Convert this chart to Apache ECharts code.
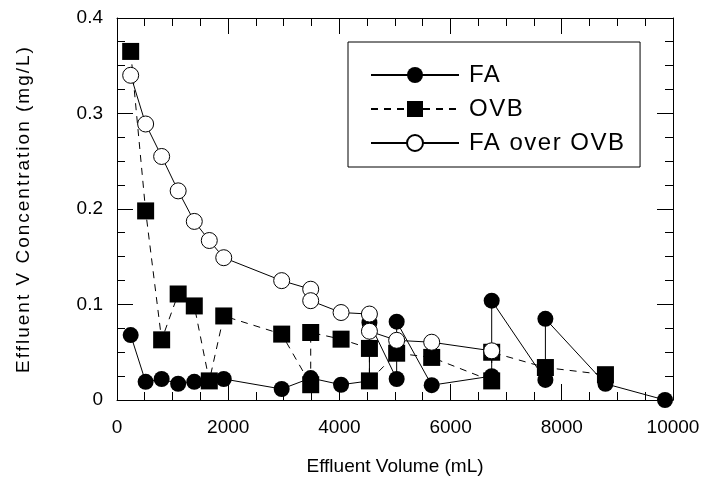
<!DOCTYPE html>
<html>
<head>
<meta charset="utf-8">
<script src="https://cdn.jsdelivr.net/npm/echarts@6/dist/echarts.min.js"></script>
<style>
html,body{margin:0;padding:0;background:#fff;}
#c{width:716px;height:484px;}
</style>
</head>
<body>
<div id="c"></div>
<script>
// ---- data ----
const volFA  = [246, 515, 803, 1100, 1390, 1660, 1920, 2962, 3484, 4030, 4540, 4540, 5030, 5030, 5660, 6739, 6739, 7705, 7705, 8785, 9856];
const concFA = [0.068, 0.019, 0.022, 0.017, 0.019, 0.020, 0.022, 0.0115, 0.023, 0.016, 0.020, 0.081, 0.022, 0.082, 0.0155, 0.025, 0.104, 0.021, 0.085, 0.017, 0.0];

const volOVB  = [246, 515, 803, 1100, 1390, 1660, 1920, 2962, 3484, 3484, 4030, 4540, 4540, 5030, 5660, 6739, 6739, 7705, 8785];
const concOVB = [0.365, 0.198, 0.063, 0.111, 0.0985, 0.020, 0.088, 0.069, 0.016, 0.0707, 0.0637, 0.054, 0.020, 0.049, 0.0446, 0.020, 0.050, 0.034, 0.0265];

const volFAoOVB  = [246, 515, 803, 1100, 1390, 1660, 1920, 2962, 3484, 3484, 4030, 4540, 4540, 5030, 5660, 6739];
const concFAoOVB = [0.340, 0.289, 0.255, 0.219, 0.187, 0.167, 0.149, 0.125, 0.116, 0.104, 0.0916, 0.090, 0.072, 0.0625, 0.0605, 0.0515];

const seriesNames = ['FA', 'OVB', 'FA over OVB'];
const xTicks = [0, 2000, 4000, 6000, 8000, 10000];
const yTicks = [0, 0.1, 0.2, 0.3, 0.4];
const minorPerMajor = 4;
const xTitle = 'Effluent Volume (mL)';
const yTitle = 'Effluent V Concentration (mg/L)';

// letter spacing similar to the original typesetting
const spacingFor = t => (t === yTitle ? '2px' : (seriesNames.indexOf(t) >= 0 ? '1.5px' : '0px'));
const _fill = CanvasRenderingContext2D.prototype.fillText;
CanvasRenderingContext2D.prototype.fillText = function (t) {
  try { this.letterSpacing = spacingFor(String(t)); } catch (e) {}
  return _fill.apply(this, arguments);
};

const pairs = (xs, ys) => xs.map((x, i) => [x, ys[i]]);
const FONT = 'Liberation Sans';
const xMin = xTicks[0], xMax = xTicks[xTicks.length - 1];
const yMin = yTicks[0], yMax = yTicks[yTicks.length - 1];
const MAJOR_LEN = 16, MINOR_LEN = 8;

const axisCommon = () => ({
  axisLine: { show: true, onZero: false, lineStyle: { color: '#000', width: 1 } },
  axisTick: { show: false },
  minorTick: { show: false },
  splitLine: { show: false },
  minorSplitLine: { show: false }
});
const xBase = () => Object.assign({ type: 'value', min: xMin, max: xMax, interval: xTicks[1] - xTicks[0] }, axisCommon());
const yBase = () => Object.assign({ type: 'value', min: yMin, max: yMax, interval: yTicks[1] - yTicks[0] }, axisCommon());

const chart = echarts.init(document.getElementById('c'), null, { renderer: 'canvas' });
chart.setOption({
  animation: false,
  backgroundColor: '#fff',
  textStyle: { fontFamily: FONT, color: '#000' },
  grid: { left: 117, right: 43, top: 18, bottom: 84 },
  legend: {
    data: seriesNames,
    orient: 'vertical',
    left: 348, top: 42,
    padding: [21, 31, 12, 22],
    itemWidth: 88, itemHeight: 20, itemGap: 10,
    borderColor: '#000', borderWidth: 1,
    textStyle: { fontFamily: FONT, fontSize: 24, lineHeight: 24, color: '#000', padding: [0, 0, 0, 5] }
  },
  xAxis: [
    Object.assign(xBase(), {
      position: 'bottom',
      name: xTitle, nameLocation: 'middle', nameGap: 57,
      nameTextStyle: { fontFamily: FONT, fontSize: 19, color: '#000' },
      axisLabel: { show: true, margin: 18, fontFamily: FONT, fontSize: 19, color: '#000', formatter: v => String(v) }
    }),
    Object.assign(xBase(), { position: 'top', axisLabel: { show: false } })
  ],
  yAxis: [
    Object.assign(yBase(), {
      position: 'left',
      name: yTitle, nameLocation: 'middle', nameGap: 84,
      nameTextStyle: { fontFamily: FONT, fontSize: 19, color: '#000' },
      axisLabel: { show: true, margin: 14, fontFamily: FONT, fontSize: 19, color: '#000', formatter: v => String(+v.toFixed(1)) }
    }),
    Object.assign(yBase(), { position: 'right', axisLabel: { show: false } })
  ],
  series: [
    {
      name: seriesNames[0], type: 'line', data: pairs(volFA, concFA),
      symbol: 'circle', symbolSize: 16, showAllSymbol: true,
      lineStyle: { color: '#000', width: 1, type: 'solid' },
      itemStyle: { color: '#000', borderWidth: 0 },
      emphasis: { disabled: true }
    },
    {
      name: seriesNames[1], type: 'line', data: pairs(volOVB, concOVB),
      symbol: 'rect', symbolSize: 17, showAllSymbol: true,
      lineStyle: { color: '#000', width: 1, type: [7, 6] },
      itemStyle: { color: '#000', borderWidth: 0 },
      emphasis: { disabled: true }
    },
    {
      name: seriesNames[2], type: 'line', data: pairs(volFAoOVB, concFAoOVB),
      symbol: 'circle', symbolSize: 16, showAllSymbol: true,
      lineStyle: { color: '#000', width: 1, type: 'solid' },
      itemStyle: { color: '#fff', borderColor: '#000', borderWidth: 1 },
      emphasis: { disabled: true }
    }
  ]
});

// tick marks on all four sides, pointing into the plot, placed through the axis scales
const crisp = v => Math.round(v - 0.5) + 0.5;
const toPx = (x, y) => chart.convertToPixel({ gridIndex: 0 }, [x, y]);
const tickStyle = () => ({ stroke: '#000', lineWidth: 1 });
const tickEls = [];
function xTick(v, len) {
  const b = toPx(v, yMin), t = toPx(v, yMax), x = crisp(b[0]);
  tickEls.push({ type: 'line', silent: true, z: 1, shape: { x1: x, y1: b[1], x2: x, y2: b[1] - len }, style: tickStyle() });
  tickEls.push({ type: 'line', silent: true, z: 1, shape: { x1: x, y1: t[1], x2: x, y2: t[1] + len }, style: tickStyle() });
}
function yTick(v, len) {
  const l = toPx(xMin, v), r = toPx(xMax, v), y = crisp(l[1]);
  tickEls.push({ type: 'line', silent: true, z: 1, shape: { x1: l[0], y1: y, x2: l[0] + len, y2: y }, style: tickStyle() });
  tickEls.push({ type: 'line', silent: true, z: 1, shape: { x1: r[0], y1: y, x2: r[0] - len, y2: y }, style: tickStyle() });
}
for (let i = 0; i < xTicks.length; i++) {
  xTick(xTicks[i], MAJOR_LEN);
  if (i < xTicks.length - 1) {
    const step = (xTicks[i + 1] - xTicks[i]) / minorPerMajor;
    for (let k = 1; k < minorPerMajor; k++) xTick(xTicks[i] + k * step, MINOR_LEN);
  }
}
for (let i = 0; i < yTicks.length; i++) {
  yTick(yTicks[i], MAJOR_LEN);
  if (i < yTicks.length - 1) {
    const step = (yTicks[i + 1] - yTicks[i]) / minorPerMajor;
    for (let k = 1; k < minorPerMajor; k++) yTick(yTicks[i] + k * step, MINOR_LEN);
  }
}
chart.setOption({ graphic: { elements: tickEls } });
</script>
</body>
</html>
